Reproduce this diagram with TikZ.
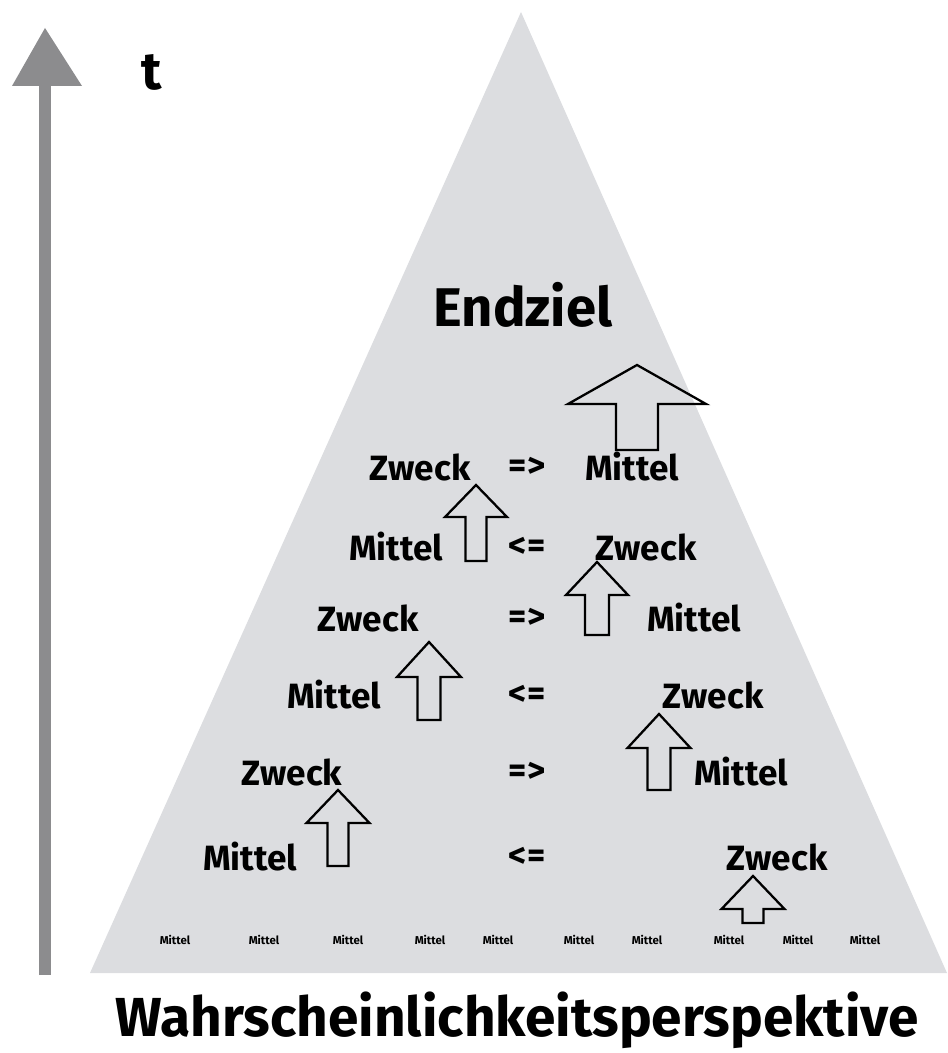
\documentclass[tikz,border=0pt]{standalone}
\usepackage{fontspec}
\setmainfont{Fira Sans}
\usepackage{tikz}
\usetikzlibrary{positioning}
\definecolor{pyramid}{RGB}{220,221,224}
\definecolor{axisgray}{RGB}{140,140,142}

% block arrow: centre x, bottom y, head base y, tip y, shaft half width, head half width
\newcommand{\blockarrow}[6]{%
  \draw[line width=1.3pt, line join=miter] (#1-#5,#2) -- (#1-#5,#3) -- (#1-#6,#3) -- (#1,#4)
    -- (#1+#6,#3) -- (#1+#5,#3) -- (#1+#5,#2) -- cycle;}

\begin{document}
\begin{tikzpicture}[x=0.02cm, y=-0.02cm,
    word/.style={font=\bfseries\fontsize{20}{24}\selectfont, inner sep=0pt},
    tiny/.style={font=\bfseries\fontsize{6.5}{7}\selectfont, inner sep=0pt}]
        \useasboundingbox (0,0) rectangle (947,1053);

        % pyramid
        \fill[pyramid] (521,12) -- (947,973) -- (90,973) -- cycle;

        % time axis
        \draw[axisgray, line width=7pt] (45,975) -- (45,80);
        \fill[axisgray] (12,86) -- (45,28) -- (82,86) -- cycle;
        \node[font=\bfseries\fontsize{30}{34}\selectfont] (t) at (152,72) {t};

        \node[font=\bfseries\fontsize{31}{36}\selectfont] (end) at (523,305) {Endziel};

        % rows
        \node[word] (z1) at (420,467) {Zweck};
        \node[word] (r1) at (527,467) {=>};
        \node[word] (m1) at (632,467) {Mittel};

        \node[word] (m2) at (396,547) {Mittel};
        \node[word] (r2) at (527,547) {<=};
        \node[word] (z2) at (646,547) {Zweck};

        \node[word] (z3) at (368,618) {Zweck};
        \node[word] (r3) at (527,618) {=>};
        \node[word] (m3) at (694,618) {Mittel};

        \node[word] (m4) at (334,695) {Mittel};
        \node[word] (r4) at (527,695) {<=};
        \node[word] (z4) at (713,695) {Zweck};

        \node[word] (z5) at (292,772) {Zweck};
        \node[word] (r5) at (527,772) {=>};
        \node[word] (m5) at (741,772) {Mittel};

        \node[word] (m6) at (250,857) {Mittel};
        \node[word] (r6) at (527,857) {<=};
        \node[word] (z6) at (777,857) {Zweck};

        % bottom row
        \foreach \x [count=\i] in {175,264,348,430,498,579,647,729,798,865}
            \node[tiny] (b\i) at (\x,940) {Mittel};

        % arrows
        \blockarrow{637}{450}{404}{365}{21}{69}
        \blockarrow{476}{561}{517}{485}{10.5}{31}
        \blockarrow{597}{635}{595}{562}{12}{31}
        \blockarrow{429}{720}{677}{642}{11.5}{32}
        \blockarrow{338}{866}{823}{790}{10.5}{31.5}
        \blockarrow{659}{790}{748}{714}{11.5}{31.5}
        \blockarrow{753}{923}{909}{876}{10.5}{31.5}

        \node[font=\bfseries\fontsize{31.3}{36}\selectfont] (title) at (517,1020) {Wahrscheinlichkeitsperspektive};
\end{tikzpicture}
\end{document}
